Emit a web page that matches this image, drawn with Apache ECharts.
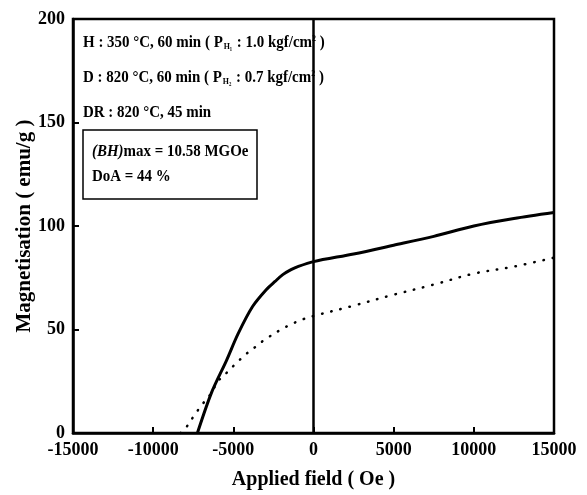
<!DOCTYPE html>
<html>
<head>
<meta charset="utf-8">
<script src="https://cdn.jsdelivr.net/npm/echarts@6/dist/echarts.min.js"></script>
<style>
  html, body { margin: 0; padding: 0; background: #fff; }
  #chart { width: 587px; height: 495px; }
</style>
</head>
<body>
<div id="chart"></div>
<script>
// demagnetisation curves
const solidField = [-7240, -6360, -5430, -4700, -3790, -2950, -2400, -1915, -1400, -940, 0, 2500, 5000, 7500, 10000, 12500, 15000];
const solidMag   = [0, 19.5, 35, 48, 61.2, 69.2, 73.2, 76.5, 78.9, 80.5, 82.8, 86.5, 90.7, 95, 100, 103.6, 106.5];
const dotField = [-8300, -7920, -7420, -6920, -6360, -5990, -5360, -4800, -4180, -3620, -3060, -1930, -1310, -750, 0, 2500, 5000, 7500, 10000, 12500, 15000];
const dotMag   = [0, 3, 8.7, 14, 19.4, 24.7, 29.5, 33.9, 38.3, 41.6, 45, 50.4, 52.8, 54.7, 56.5, 61.5, 66.8, 71.7, 77, 80.4, 84.7];

const annotLines = [
  '{n|H : 350 °C, 60 min ( P}{s|H₁}{n| : 1.0 kgf/cm}{p|2}{n| )}',
  '{n|D : 820 °C, 60 min ( P}{s|H₂}{n| : 0.7 kgf/cm}{p|2}{n| )}',
  '{n|DR : 820 °C, 45 min}'
];
const boxLines = ['{i|(BH)}{n|max = 10.58 MGOe}', '{n|DoA = 44 %}'];

const serif = 'Liberation Serif';
const richStyle = {
  n: { fontFamily: serif, fontWeight: 'bold', fontSize: 17, fill: '#000' },
  i: { fontFamily: serif, fontWeight: 'bold', fontStyle: 'italic', fontSize: 17, fill: '#000' },
  s: { fontFamily: serif, fontWeight: 'bold', fontSize: 9, fill: '#000', verticalAlign: 'bottom', padding: [0, 1, 0, 1] },
  p: { fontFamily: serif, fontWeight: 'bold', fontSize: 9, fill: '#000', verticalAlign: 'top' }
};

function pairs(xs, ys) {
  return xs.map((x, i) => [x, ys[i]]);
}

const chart = echarts.init(document.getElementById('chart'));

const axisText = { color: '#000', fontFamily: serif, fontWeight: 'bold', fontSize: 18 };

chart.setOption({
  backgroundColor: '#fff',
  animation: false,
  grid: {
    left: 73, right: 33, top: 19, bottom: 62,
    show: true, borderColor: '#000', borderWidth: 2.5, backgroundColor: 'transparent'
  },
  xAxis: {
    type: 'value', min: -15000, max: 15000, interval: 5000,
    name: 'Applied field ( Oe )', nameLocation: 'middle', nameGap: 37, nameMoveOverlap: false,
    nameTextStyle: { color: '#000', fontFamily: serif, fontWeight: 'bold', fontSize: 20 },
    axisLine: { onZero: false, lineStyle: { color: '#000', width: 2.5 } },
    axisTick: { inside: true, length: 6, lineStyle: { color: '#000', width: 2 } },
    axisLabel: Object.assign({ margin: 8, formatter: v => String(v) }, axisText),
    splitLine: { show: false }
  },
  yAxis: {
    type: 'value', min: 0, max: 200, interval: 50,
    name: 'Magnetisation ( emu/g )', nameLocation: 'middle', nameGap: 38, nameMoveOverlap: false,
    nameTextStyle: { color: '#000', fontFamily: serif, fontWeight: 'bold', fontSize: 21 },
    axisLine: { onZero: false, lineStyle: { color: '#000', width: 2.5 } },
    axisTick: { inside: true, length: 6, lineStyle: { color: '#000', width: 2 } },
    axisLabel: Object.assign({ margin: 8 }, axisText),
    splitLine: { show: false }
  },
  series: [
    {
      type: 'line', data: pairs(solidField, solidMag), smooth: 0.3,
      showSymbol: false, lineStyle: { color: '#000', width: 3 },
      markLine: {
        silent: true, symbol: 'none', label: { show: false },
        lineStyle: { color: '#000', width: 2.5, type: 'solid' },
        data: [{ xAxis: 0 }]
      }
    },
    {
      type: 'line', data: pairs(dotField, dotMag), smooth: 0.35,
      showSymbol: false, lineStyle: { color: '#000', width: 2.5, type: [0.5, 9], cap: 'round' }
    }
  ],
  graphic: [
    { type: 'text', left: 83, top: 34, scaleX: 0.88, style: { text: annotLines[0], rich: richStyle } },
    { type: 'text', left: 83, top: 69, scaleX: 0.88, style: { text: annotLines[1], rich: richStyle } },
    { type: 'text', left: 83, top: 104, scaleX: 0.88, style: { text: annotLines[2], rich: richStyle } },
    { type: 'rect', shape: { x: 83, y: 130, width: 174, height: 69 },
      style: { fill: 'none', stroke: '#000', lineWidth: 1.5 } },
    { type: 'text', left: 92, top: 143, scaleX: 0.88, style: { text: boxLines[0], rich: richStyle } },
    { type: 'text', left: 92, top: 168, scaleX: 0.88, style: { text: boxLines[1], rich: richStyle } }
  ]
});
</script>
</body>
</html>
